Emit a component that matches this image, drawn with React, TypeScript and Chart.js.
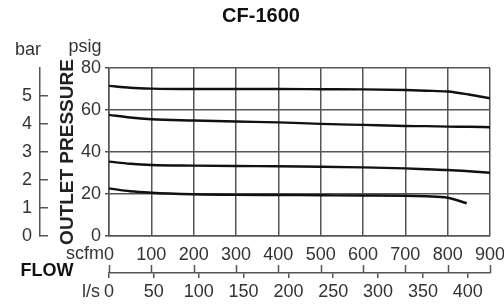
import React, { useEffect, useRef } from "react";
import { Chart, registerables } from "chart.js";

Chart.register(...registerables);

// ---------- data ----------
const chartTitle = "CF-1600";
const flowScfm = [0, 50, 100, 200, 300, 400, 500, 600, 700, 750, 800, 850, 900];
const pressureCurve70 = [71.5, 70.6, 70.2, 70.0, 70.0, 70.0, 69.9, 69.8, 69.5, 69.2, 68.8, 67.4, 65.6];
const pressureCurve55 = [57.7, 56.4, 55.6, 55.0, 54.5, 54.1, 53.4, 52.9, 52.4, 52.3, 52.1, 52.0, 51.8];
const pressureCurve33 = [35.4, 34.4, 33.8, 33.5, 33.3, 33.2, 33.0, 32.7, 32.2, 31.8, 31.4, 30.8, 30.1];
const flowScfmLow = [0, 50, 100, 200, 300, 400, 500, 600, 700, 750, 800, 845];
const pressureCurve20 = [22.7, 21.3, 20.6, 19.9, 19.6, 19.5, 19.4, 19.3, 19.2, 18.9, 18.2, 15.6];

const scfmTicks = [0, 100, 200, 300, 400, 500, 600, 700, 800, 900];
const lsTicks = [0, 50, 100, 150, 200, 250, 300, 350, 400];
const psigTicks = [0, 20, 40, 60, 80];
const barTicks = [0, 1, 2, 3, 4, 5];

const SCFM_PER_LS = 2.11888;
const SCFM_MAX = 900;
const PSIG_MAX = 80;
const BAR_AXIS_MAX = 6;

// ---------- styles ----------
const FONT = "'Liberation Sans', Arial, Helvetica, sans-serif";
const GRID = "#555555";
const TEXT = "#333333";
const LINE = "#111111";

const toPoints = (xs: number[], ys: number[]) => xs.map((x, i) => ({ x, y: ys[i] }));

const extraLabels = {
  id: "extraLabels",
  afterDraw(chart: any) {
    const { ctx, scales } = chart;
    const x = scales.x;
    const x2 = scales.x2;
    ctx.save();
    // scfm tick marks pointing up from the l/s axis line
    ctx.strokeStyle = GRID;
    ctx.lineWidth = 1.5;
    scfmTicks.forEach((v) => {
      const px = Math.round(x.getPixelForValue(v)) + 0.5;
      ctx.beginPath();
      ctx.moveTo(px, x2.top - 8);
      ctx.lineTo(px, x2.top);
      ctx.stroke();
    });

    ctx.textBaseline = "middle";
    ctx.textAlign = "center";
    ctx.fillStyle = "#111";
    ctx.font = `bold 20px ${FONT}`;
    ctx.fillText(chartTitle, 261, 16);

    ctx.fillStyle = TEXT;
    ctx.font = `18px ${FONT}`;
    ctx.fillText("bar", 28, 50);
    ctx.fillText("psig", 85, 47);
    ctx.textAlign = "right";
    ctx.fillText("scfm", 104, 254);
    ctx.fillText("l/s", 100, 292);

    ctx.textAlign = "center";
    ctx.fillStyle = "#111";
    ctx.font = `bold 18px ${FONT}`;
    ctx.fillText("FLOW", 47, 271);
    ctx.restore();
  },
};

export default function App() {
  const ref = useRef<HTMLCanvasElement | null>(null);

  useEffect(() => {
    if (!ref.current) return;
    const lineStyle = {
      borderColor: LINE,
      borderWidth: 2.4,
      pointRadius: 0,
      fill: false,
      cubicInterpolationMode: "monotone" as const,
    };
    const chart = new Chart(ref.current, {
      type: "line",
      data: {
        datasets: [
          { label: "70 psig", data: toPoints(flowScfm, pressureCurve70), ...lineStyle },
          { label: "55 psig", data: toPoints(flowScfm, pressureCurve55), ...lineStyle },
          { label: "33 psig", data: toPoints(flowScfm, pressureCurve33), ...lineStyle },
          { label: "20 psig", data: toPoints(flowScfmLow, pressureCurve20), ...lineStyle },
        ],
      },
      options: {
        animation: false,
        responsive: false,
        devicePixelRatio: 1,
        layout: { padding: { top: 68, right: 14, left: 0, bottom: 0 } },
        plugins: {
          legend: { display: false },
          title: { display: false },
          tooltip: { enabled: false },
        },
        scales: {
          x: {
            type: "linear",
            position: "bottom",
            min: 0,
            max: SCFM_MAX,
            weight: 0,
            afterBuildTicks: (s: any) => {
              s.ticks = scfmTicks.map((v) => ({ value: v }));
            },
            afterFit: (s: any) => {
              s.height = 37;
              s.paddingLeft = 0;
              s.paddingRight = 0;
            },
            grid: { color: GRID, lineWidth: 1.5, drawTicks: false },
            border: { display: true, color: GRID, width: 1.5 },
            ticks: { color: TEXT, font: { size: 18, family: FONT }, padding: 8, maxRotation: 0, autoSkip: false },
          },
          x2: {
            type: "linear",
            position: "bottom",
            min: 0,
            max: SCFM_MAX / SCFM_PER_LS,
            weight: 1,
            afterBuildTicks: (s: any) => {
              s.ticks = lsTicks.map((v) => ({ value: v }));
            },
            afterFit: (s: any) => {
              s.height = 32;
              s.paddingLeft = 0;
              s.paddingRight = 0;
            },
            grid: { color: GRID, lineWidth: 1.5, drawOnChartArea: false, drawTicks: true, tickLength: 5 },
            border: { display: true, color: GRID, width: 1.5 },
            ticks: { color: TEXT, font: { size: 18, family: FONT }, padding: 3, maxRotation: 0, autoSkip: false },
          },
          y: {
            type: "linear",
            position: "left",
            min: 0,
            max: PSIG_MAX,
            weight: 0,
            afterBuildTicks: (s: any) => {
              s.ticks = psigTicks.map((v) => ({ value: v }));
            },
            afterFit: (s: any) => {
              s.width = 69;
            },
            grid: { color: GRID, lineWidth: 1.5, drawTicks: true, tickLength: 4 },
            border: { display: true, color: GRID, width: 1.5 },
            ticks: { color: TEXT, font: { size: 18, family: FONT }, padding: 4 },
            title: {
              display: true,
              text: "OUTLET PRESSURE",
              color: "#222",
              font: { size: 19, weight: "bold", family: FONT },
              padding: { top: 16, bottom: 0 },
            },
          },
          y2: {
            type: "linear",
            position: "left",
            min: 0,
            max: BAR_AXIS_MAX,
            weight: 1,
            afterBuildTicks: (s: any) => {
              s.ticks = barTicks.map((v) => ({ value: v }));
            },
            afterFit: (s: any) => {
              s.width = 40;
            },
            grid: { color: GRID, lineWidth: 1.5, drawOnChartArea: false, drawTicks: true, tickLength: -8 },
            border: { display: true, color: GRID, width: 1.5 },
            ticks: { color: TEXT, font: { size: 18, family: FONT }, padding: 16 },
          },
        },
      },
      plugins: [extraLabels],
    } as any);
    return () => chart.destroy();
  }, []);

  return (
    <div style={{ position: "fixed", left: 0, top: 0, width: 504, height: 305, background: "#fff" }}>
      <canvas ref={ref} width={504} height={305} />
    </div>
  );
}
